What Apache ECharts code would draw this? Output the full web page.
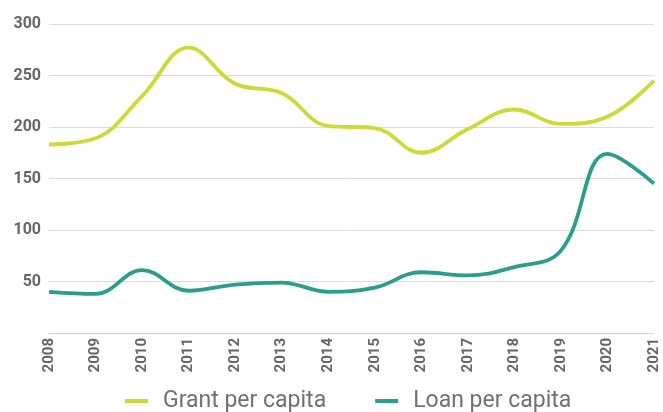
<!DOCTYPE html>
<html><head><meta charset="utf-8">
<script src="https://cdn.jsdelivr.net/npm/echarts@6/dist/echarts.min.js"></script>
<style>html,body{margin:0;padding:0;background:#fff}#c{width:663px;height:412px}</style>
</head><body><div id="c"></div>
<script>
const years = ['2008','2009','2010','2011','2012','2013','2014','2015','2016','2017','2018','2019','2020','2021'];
const grantPerCapita = [183, 189, 230, 277, 242, 233, 201, 199, 175, 198, 217, 203, 210, 245];
const loanPerCapita = [40, 38, 61, 41, 47, 49, 40, 44, 59, 56, 64, 80, 174, 145];
const yTicks = [0, 50, 100, 150, 200, 250, 300];

const chart = echarts.init(document.getElementById('c'), null, {renderer:'canvas'});
chart.setOption({
  animation:false,
  grid:{left:49,right:9,top:24,bottom:79},
  xAxis:{type:'category',data:years,boundaryGap:false,
    axisLine:{lineStyle:{color:'#d4d4d4',width:1}},axisTick:{show:false},
    axisLabel:{rotate:90,color:'#666',fontFamily:'Roboto',fontWeight:'bold',fontSize:15,margin:5}},
  yAxis:{type:'value',min:yTicks[0],max:yTicks[yTicks.length-1],interval:50,
    axisLine:{show:false},axisTick:{show:false},
    splitLine:{lineStyle:{color:'#dadada',width:1}},
    axisLabel:{color:'#666',fontFamily:'Roboto',fontWeight:'bold',fontSize:16,margin:8,
      formatter:v=>v===0?'':String(v)}},
  legend:{top:388,left:125,icon:'rect',itemWidth:23,itemHeight:4,itemGap:49,padding:0,
    textStyle:{color:'#707070',fontFamily:'Roboto',fontSize:23,padding:[0,0,0,10],lineHeight:26},
    data:['Grant per capita','Loan per capita']},
  series:[
    {name:'Grant per capita',type:'line',data:grantPerCapita,smooth:0.4,showSymbol:false,
     lineStyle:{color:'#cdd937',width:3.8},itemStyle:{color:'#cdd937'}},
    {name:'Loan per capita',type:'line',data:loanPerCapita,smooth:0.4,showSymbol:false,
     lineStyle:{color:'#2a9d8f',width:3.8},itemStyle:{color:'#2a9d8f'}}
  ]
});
</script></body></html>
